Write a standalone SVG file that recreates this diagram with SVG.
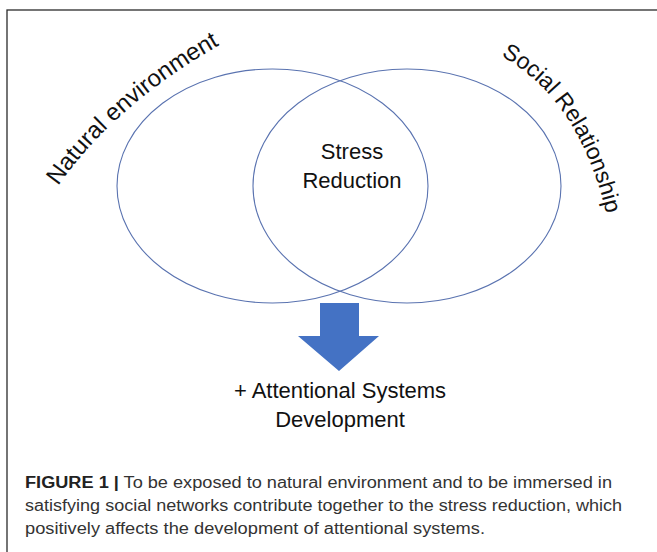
<svg xmlns="http://www.w3.org/2000/svg" width="657" height="552" viewBox="0 0 657 552">
  <style>
    .frame { fill: none; stroke: #2b2b2b; stroke-width: 1.3; }
    .set { fill: none; stroke: #5a73b0; stroke-width: 1.1; }
    .lbl { font-family: "Liberation Sans", Arial, sans-serif; fill: #111; }
    .cap { font-family: "Liberation Sans", Arial, sans-serif; font-size: 16px; fill: #333; }
    .capb { font-weight: bold; fill: #222; }
  </style>
  <defs>
    <path id="arcNatural" d="M 58 186 Q 120 98 236 36"/>
    <path id="arcSocial" d="M 501 56 Q 578 98 606 212"/>
  </defs>

  <!-- outer frame, open to the right and bottom -->
  <rect class="frame" x="7" y="10" width="680" height="580"/>

  <g id="natural-environment">
    <ellipse class="set" cx="272.5" cy="186" rx="155.5" ry="117"/>
    <text class="lbl" font-size="24"><textPath href="#arcNatural">Natural environment</textPath></text>
  </g>

  <g id="social-relationship">
    <ellipse class="set" cx="407" cy="186" rx="154" ry="117"/>
    <text class="lbl" font-size="23"><textPath href="#arcSocial">Social Relationship</textPath></text>
  </g>

  <g id="stress-reduction">
    <text class="lbl" font-size="22" text-anchor="middle" x="352" y="159">Stress</text>
    <text class="lbl" font-size="22" text-anchor="middle" x="352" y="188">Reduction</text>
  </g>

  <g id="connectors">
    <polygon fill="#4472c4" points="320,303 359,303 359,336 379,336 339,371 298,336 320,336"/>
  </g>

  <g id="attentional-systems">
    <text class="lbl" font-size="22" text-anchor="middle" x="340" y="398">+ Attentional Systems</text>
    <text class="lbl" font-size="22" text-anchor="middle" x="340" y="427">Development</text>
  </g>

  <g id="caption">
    <text class="cap" x="25" y="488" textLength="587" lengthAdjust="spacingAndGlyphs"><tspan class="capb">FIGURE 1 |</tspan> To be exposed to natural environment and to be immersed in</text>
    <text class="cap" x="25" y="511" textLength="597" lengthAdjust="spacingAndGlyphs">satisfying social networks contribute together to the stress reduction, which</text>
    <text class="cap" x="25" y="534" textLength="460" lengthAdjust="spacingAndGlyphs">positively affects the development of attentional systems.</text>
  </g>
</svg>
